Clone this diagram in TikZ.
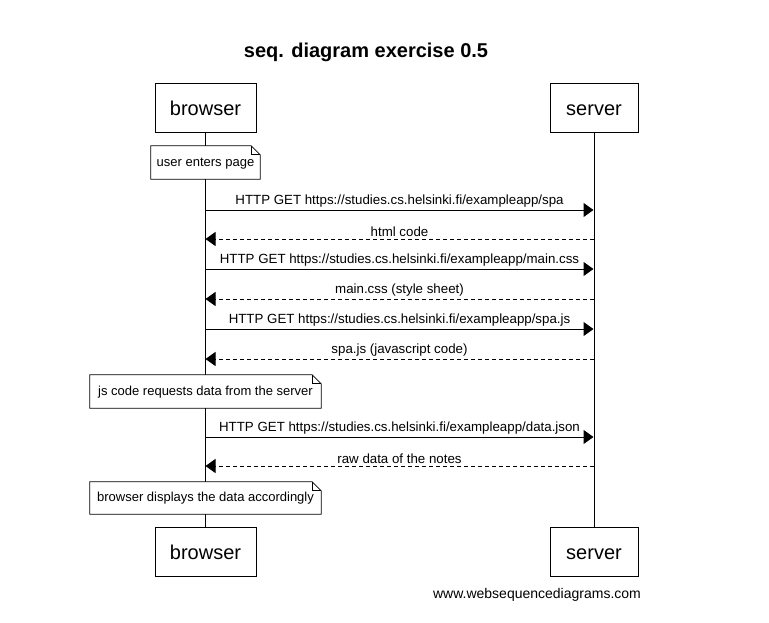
\documentclass[tikz,border=0pt]{standalone}
\usepackage{fontspec}
\setmainfont{Liberation Sans}
\usetikzlibrary{arrows.meta}
\tikzset{
  actor/.style={draw=black, line width=1pt, fill=white, minimum height=49pt, inner sep=0pt, text height=15.5pt, text depth=0pt, font=\fontsize{20}{24}\selectfont},
  notebox/.style={fill=white, minimum height=33pt, inner sep=0pt, text height=9.5pt, text depth=2.5pt, font=\fontsize{13}{15}\selectfont},
  msg/.style={line width=1pt, -{Triangle[length=10pt,width=14pt]}},
  reply/.style={msg, dash pattern=on 4pt off 3pt},
  lbl/.style={font=\fontsize{13.3}{15}\selectfont, inner sep=0pt, above=2pt},
  life/.style={line width=1pt},
}
\newcommand{\notedraw}[1]{%
  \draw[line width=0.8pt] (#1.south west) -- (#1.north west) -- ([xshift=-9pt]#1.north east) -- ([yshift=-9pt]#1.north east) -- (#1.south east) -- cycle;
  \draw[line width=0.8pt] ([xshift=-9pt]#1.north east) -- ([xshift=-9pt,yshift=-9pt]#1.north east) -- ([yshift=-9pt]#1.north east);
}
\begin{document}
\begin{tikzpicture}[x=1pt,y=-1pt]
\useasboundingbox[fill=white] (0,0) rectangle (769,622);
\node[font=\bfseries\fontsize{20}{24}\selectfont] (title) at (366,52) {seq. diagram exercise 0.5};
\node[actor, minimum width=101pt] (bt) at (205.5,107.5) {browser};
\node[actor, minimum width=88pt] (st) at (594,107.5) {server};
\node[actor, minimum width=101pt] (bb) at (205.5,551.5) {browser};
\node[actor, minimum width=88pt] (sb) at (594,551.5) {server};
\draw[life] (bt.south) -- (bb.north);
\draw[life] (st.south) -- (sb.north);
% notes
\node[notebox, minimum width=109pt] (n1) at (205.5,162.5) {user enters page};
\notedraw{n1}
\node[notebox, minimum width=231pt] (n2) at (205.5,391.5) {js code requests data from the server};
\notedraw{n2}
\node[notebox, minimum width=231pt, minimum height=32pt] (n3) at (205.5,498) {browser displays the data accordingly};
\notedraw{n3}
% message coordinates
\foreach \i/\y in {1/210,2/239,3/269,4/299,5/329,6/359,7/437,8/466}{
  \coordinate (b\i) at (205.5,\y);
  \coordinate (s\i) at (593.5,\y);
}
\draw[msg] (b1) -- node[lbl] {HTTP GET https://studies.cs.helsinki.fi/exampleapp/spa} (s1);
\draw[reply] (s2) -- node[lbl] {html code} (b2);
\draw[msg] (b3) -- node[lbl] {HTTP GET https://studies.cs.helsinki.fi/exampleapp/main.css} (s3);
\draw[reply] (s4) -- node[lbl] {main.css (style sheet)} (b4);
\draw[msg] (b5) -- node[lbl] {HTTP GET https://studies.cs.helsinki.fi/exampleapp/spa.js} (s5);
\draw[reply] (s6) -- node[lbl] {spa.js (javascript code)} (b6);
\draw[msg] (b7) -- node[lbl] {HTTP GET https://studies.cs.helsinki.fi/exampleapp/data.json} (s7);
\draw[reply] (s8) -- node[lbl] {raw data of the notes} (b8);
\node[font=\fontsize{14}{17}\selectfont] (footer) at (537,595) {www.websequencediagrams.com};
\end{tikzpicture}
\end{document}
